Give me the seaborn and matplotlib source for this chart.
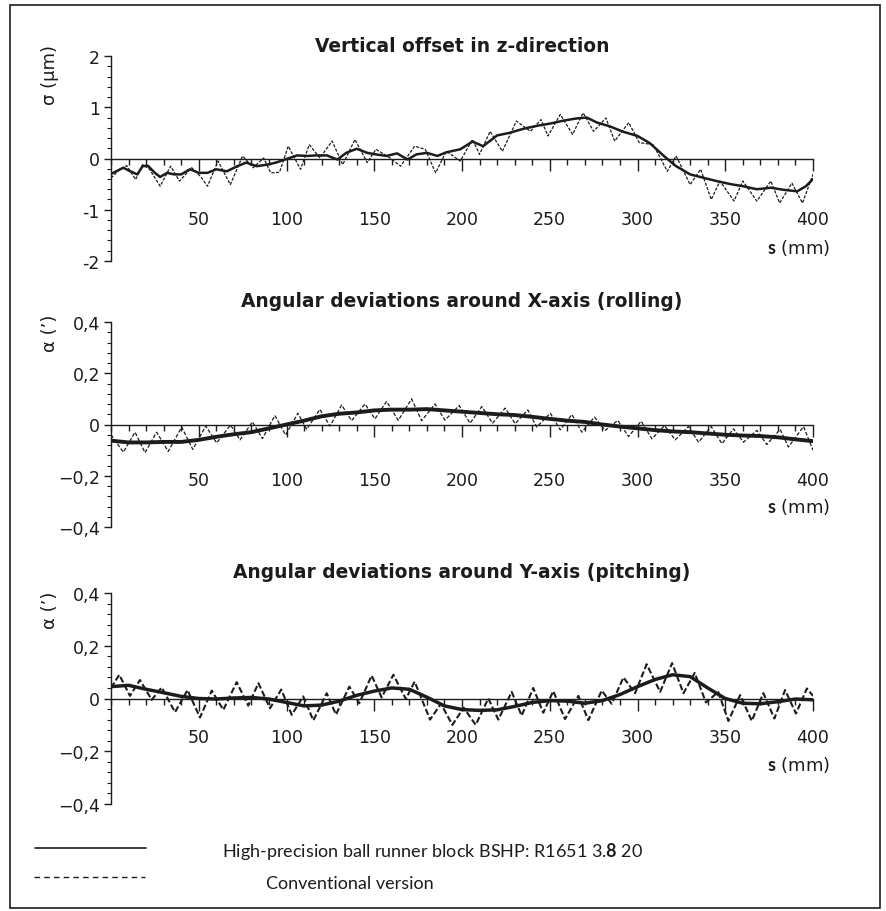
import matplotlib
matplotlib.use("Agg")
import matplotlib.pyplot as plt
import seaborn as sns
from matplotlib.lines import Line2D
from matplotlib.patches import Rectangle
from matplotlib.ticker import MultipleLocator

# ---------------- data ----------------
titles = ["Vertical offset in z-direction",
          "Angular deviations around X-axis (rolling)",
          "Angular deviations around Y-axis (pitching)"]
y_titles = ["σ (µm)", "α (’)", "α (’)"]
x_ticks = [50, 100, 150, 200, 250, 300, 350, 400]
legend_labels = ["High-precision ball runner block BSHP: R1651 3.$\\mathbf{8}$ 20",
                 "Conventional version"]

# panel 1: vertical offset (µm)
z_s_hp = [0, 3, 7, 11, 15, 18, 21, 25, 28, 32, 36, 40, 45, 50, 55, 60, 66, 72, 77, 83,
          89, 94, 100, 106, 112, 117, 123, 129, 134, 140, 146, 151, 157, 163, 169, 174,
          180, 186, 191, 199, 206, 212, 220, 227, 235, 243, 250, 258, 265, 271, 277, 284,
          292, 300, 307, 315, 322, 330, 338, 345, 353, 360, 368, 376, 383, 391, 396, 400]
z_hp = [-0.30, -0.25, -0.18, -0.25, -0.31, -0.15, -0.14, -0.28, -0.36, -0.28, -0.31, -0.31,
        -0.21, -0.28, -0.28, -0.21, -0.25, -0.15, -0.08, -0.15, -0.12, -0.08, -0.01, 0.06,
        0.05, 0.06, 0.06, -0.02, 0.11, 0.19, 0.11, 0.08, 0.05, 0.10, -0.02, 0.08, 0.11, 0.05,
        0.12, 0.18, 0.33, 0.24, 0.45, 0.50, 0.58, 0.64, 0.68, 0.74, 0.78, 0.80, 0.70, 0.63,
        0.52, 0.44, 0.30, 0.05, -0.15, -0.31, -0.38, -0.44, -0.50, -0.54, -0.60, -0.57,
        -0.61, -0.64, -0.54, -0.40]
z_s_conv = [0, 5, 9, 14, 18, 22, 28, 34, 39, 46, 51, 55, 61, 68, 75, 81, 87, 91, 96, 101,
            108, 113, 119, 126, 132, 139, 146, 151, 159, 165, 173, 179, 185, 191, 195, 199,
            206, 210, 216, 223, 231, 239, 245, 249, 256, 263, 269, 275, 282, 287, 295, 301,
            309, 317, 322, 330, 336, 342, 347, 355, 360, 368, 376, 381, 388, 394, 400]
z_conv = [-0.38, -0.21, -0.14, -0.41, -0.12, -0.21, -0.54, -0.15, -0.44, -0.18, -0.35, -0.54,
          -0.05, -0.51, 0.05, -0.18, 0.01, -0.28, -0.27, 0.24, -0.21, 0.27, 0.01, 0.34, -0.12,
          0.37, -0.08, 0.18, 0.01, -0.15, 0.24, 0.18, -0.28, 0.14, 0.05, -0.05, 0.37, 0.08,
          0.53, 0.14, 0.73, 0.53, 0.76, 0.44, 0.86, 0.47, 0.89, 0.53, 0.79, 0.34, 0.70, 0.31,
          0.27, -0.25, 0.05, -0.51, -0.21, -0.80, -0.44, -0.83, -0.44, -0.83, -0.44, -0.87,
          -0.48, -0.87, -0.31]

# panels 2 and 3 share the 10 mm grid for the high-precision block
s_grid = [0, 10, 20, 30, 40, 50, 60, 70, 80, 90, 100, 110, 120, 130, 140, 150, 160, 170,
          180, 190, 200, 210, 220, 230, 240, 250, 260, 270, 280, 290, 300, 310, 320, 330,
          340, 350, 360, 370, 380, 390, 400]

# panel 2: rolling (')
roll_hp = [-0.063, -0.070, -0.070, -0.068, -0.068, -0.060, -0.048, -0.038, -0.030, -0.015,
           0.000, 0.015, 0.032, 0.042, 0.047, 0.055, 0.058, 0.058, 0.060, 0.055,
           0.050, 0.045, 0.040, 0.037, 0.030, 0.022, 0.015, 0.010, 0.000, -0.008,
           -0.015, -0.022, -0.027, -0.030, -0.035, -0.040, -0.043, -0.045, -0.050, -0.058,
           -0.065]
roll_s_conv = [0, 7.0, 13.7, 19.4, 26.0, 32.6, 40.3, 46.6, 54.0, 60.2, 68.1, 73.5, 80.6, 86.3,
               93.4, 99.5, 106.5, 111.5, 119.0, 124.8, 131.4, 137.1, 144.7, 150.4, 157.0,
               163.7, 171.3, 177.0, 184.6, 190.3, 198.4, 204.6, 211.3, 217.4, 224.6, 230.3,
               237.5, 242.6, 250.3, 256.0, 262.6, 268.3, 275.5, 281.6, 288.8, 294.9, 302.1,
               308.2, 315.4, 321.5, 329.0, 334.8, 342.0, 348.1, 354.7, 360.4, 368.0, 373.7,
               381.3, 386.0, 394.6, 400.0]
roll_conv = [-0.040, -0.108, -0.030, -0.110, -0.030, -0.105, -0.010, -0.097, -0.006, -0.072,
             -0.002, -0.060, 0.010, -0.055, 0.035, -0.041, 0.044, -0.019, 0.059, -0.006,
             0.076, 0.015, 0.080, 0.022, 0.090, 0.016, 0.100, 0.015, 0.080, 0.017,
             0.074, 0.005, 0.070, 0.005, 0.064, 0.003, 0.057, -0.010, 0.044, -0.021,
             0.039, -0.030, 0.029, -0.023, 0.016, -0.047, 0.013, -0.056, -0.004, -0.060,
             -0.008, -0.069, -0.008, -0.075, -0.017, -0.069, -0.023, -0.078, -0.019, -0.088,
             -0.008, -0.100]

# panel 3: pitching (')
pitch_hp = [0.045, 0.050, 0.035, 0.022, 0.008, 0.000, -0.002, 0.002, 0.004, -0.002,
            -0.015, -0.028, -0.025, -0.010, 0.012, 0.028, 0.040, 0.035, 0.005, -0.028,
            -0.042, -0.045, -0.043, -0.030, -0.015, -0.008, -0.010, -0.018, -0.008, 0.015,
            0.045, 0.072, 0.090, 0.083, 0.040, 0.000, -0.018, -0.020, -0.012, -0.002,
            -0.005]
pitch_s_conv = [0, 4.7, 10.8, 16.5, 23.2, 28.9, 36.5, 43.6, 50.7, 57.4, 64.0, 71.6, 78.2,
                84.0, 90.6, 97.0, 103.0, 109.5, 115.3, 122.9, 128.2, 135.8, 141.5, 148.5,
                154.2, 160.9, 168.0, 173.0, 181.8, 188.0, 194.5, 201.0, 207.8, 215.0, 220.7,
                228.3, 234.0, 240.6, 246.3, 252.0, 258.7, 266.3, 272.0, 279.6, 285.3, 292.0,
                298.6, 305.2, 312.9, 319.7, 326.2, 332.6, 339.0, 346.0, 351.8, 358.5, 365.1,
                371.7, 378.0, 384.1, 390.3, 396.5, 400.0]
pitch_conv = [0.040, 0.090, 0.010, 0.070, -0.005, 0.042, -0.052, 0.032, -0.072, 0.030,
              -0.043, 0.062, -0.027, 0.058, -0.037, 0.034, -0.062, 0.008, -0.083, 0.020,
              -0.061, 0.045, -0.018, 0.087, 0.004, 0.090, -0.002, 0.064, -0.080, -0.020,
              -0.100, -0.035, -0.100, 0.000, -0.080, 0.025, -0.065, 0.040, -0.054, 0.028,
              -0.078, 0.010, -0.082, 0.030, -0.020, 0.080, 0.020, 0.130, 0.025, 0.134,
              0.020, 0.097, -0.015, 0.025, -0.085, 0.013, -0.085, 0.020, -0.076, 0.032,
              -0.057, 0.038, 0.010]

# ---------------- styling ----------------
sns.set_style("ticks")
plt.rcParams["font.family"] = "DejaVu Sans"
plt.rcParams["mathtext.fontset"] = "custom"
plt.rcParams["mathtext.rm"] = "Lato"
plt.rcParams["mathtext.bf"] = "Lato:bold"

INK = "#1c1c1c"
W, H = 886, 912


def fx(px):
    return px / W


def fy(py):
    return 1 - py / H


fig = plt.figure(figsize=(W / 100, H / 100), dpi=100)


def make_axes(top, bottom):
    return fig.add_axes([fx(111), fy(bottom), fx(813) - fx(111), fy(top) - fy(bottom)])


def style_axes(ax, ylim, yticks, ylabels, yminor, pad):
    ax.set_xlim(0, 400)
    ax.set_ylim(*ylim)
    ax.patch.set_alpha(0)
    ax.spines["top"].set_visible(False)
    ax.spines["right"].set_visible(False)
    ax.spines["bottom"].set_position(("data", 0))
    for side in ["left", "bottom"]:
        ax.spines[side].set_linewidth(1.0)
        ax.spines[side].set_color(INK)
    ax.set_xticks(x_ticks)
    ax.set_xticklabels([str(t) for t in x_ticks], fontsize=12.5)
    ax.xaxis.set_minor_locator(MultipleLocator(10))
    ax.set_yticks(yticks)
    ax.set_yticklabels(ylabels, fontsize=12.5)
    ax.yaxis.set_minor_locator(MultipleLocator(yminor))
    ax.tick_params(axis="x", which="major", bottom=True, direction="out", length=8.5,
                   width=1.0, pad=pad, colors=INK)
    ax.tick_params(axis="x", which="minor", bottom=True, direction="out", length=4.3,
                   width=1.0, colors=INK)
    ax.tick_params(axis="y", which="major", left=True, direction="out", length=5,
                   width=1.0, pad=3, colors=INK)
    ax.tick_params(axis="y", which="minor", left=True, direction="out", length=3,
                   width=0.8, colors=INK)
    ax.set_xlabel("")
    ax.set_ylabel("")


# panel 1
ax1 = make_axes(57, 262)
sns.lineplot(x=z_s_conv, y=z_conv, ax=ax1, color=INK, linewidth=0.9,
             linestyle=(0, (2.5, 1.2)), errorbar=None)
sns.lineplot(x=z_s_hp, y=z_hp, ax=ax1, color=INK, linewidth=1.8, errorbar=None)
style_axes(ax1, (-2, 2), [-2, -1, 0, 1, 2], ["-2", "-1", "0", "1", "2"], 0.2, 28.4)

# panel 2
ax2 = make_axes(323, 528)
sns.lineplot(x=roll_s_conv, y=roll_conv, ax=ax2, color=INK, linewidth=0.9,
             linestyle=(0, (3, 1.5)), errorbar=None)
sns.lineplot(x=s_grid, y=roll_hp, ax=ax2, color=INK, linewidth=2.8, errorbar=None)
style_axes(ax2, (-0.4, 0.4), [-0.4, -0.2, 0, 0.2, 0.4],
           ["−0,4", "−0,2", "0", "0,2", "0,4"], 0.04, 24.8)

# panel 3
ax3 = make_axes(594, 805)
sns.lineplot(x=s_grid, y=pitch_hp, ax=ax3, color=INK, linewidth=2.5, errorbar=None)
sns.lineplot(x=pitch_s_conv, y=pitch_conv, ax=ax3, color=INK, linewidth=1.5,
             linestyle=(0, (3, 1.3)), errorbar=None)
style_axes(ax3, (-0.4, 0.4), [-0.4, -0.2, 0, 0.2, 0.4],
           ["−0,4", "−0,2", "0", "0,2", "0,4"], 0.04, 12.9)

# titles, axis labels
for title, ty in zip(titles, [47, 302, 573]):
    fig.text(fx(462), fy(ty), title, ha="center", va="center", fontsize=13.4,
             fontweight="bold", family="DejaVu Sans", color=INK)
for lab, ly in zip(y_titles, [75, 333, 610]):
    fig.text(fx(50), fy(ly), lab, ha="center", va="center", rotation=90,
             fontsize=13, color=INK)
for sy in [248, 507, 765]:
    fig.text(fx(830), fy(sy), r"$\mathbf{s}$ (mm)", ha="right", va="center",
             fontsize=13, color=INK)

# legend
fig.add_artist(Line2D([fx(35), fx(146)], [fy(849), fy(849)], color=INK, linewidth=1.2))
fig.add_artist(Line2D([fx(34), fx(145)], [fy(878), fy(878)], color=INK, linewidth=1.0,
                      linestyle=(0, (4, 3))))
fig.text(fx(222), fy(852), legend_labels[0], ha="left", va="center", fontsize=13,
         family="Lato", color=INK)
fig.text(fx(266), fy(884), legend_labels[1], ha="left", va="center", fontsize=13,
         family="Lato", color=INK)

# outer frame
fig.add_artist(Rectangle((fx(10), fy(909)), fx(880) - fx(10), fy(6) - fy(909),
                         transform=fig.transFigure, fill=False, edgecolor=INK,
                         linewidth=1.2))

fig.savefig("out.png", dpi=100)
